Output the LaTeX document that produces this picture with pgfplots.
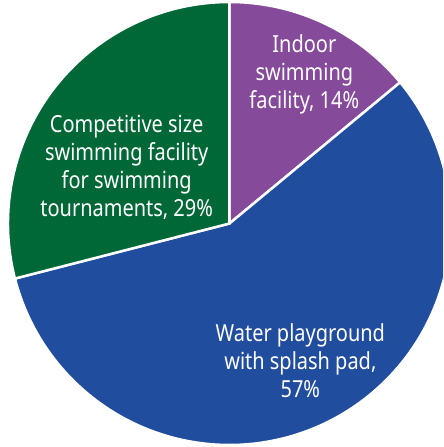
\documentclass[border=0pt]{standalone}
\usepackage{pgfplots}
\pgfplotsset{compat=1.18}
\usepackage{fontspec}
\setmainfont{Noto Sans}[FakeStretch=0.85]
\definecolor{pieblue}{RGB}{33,77,158}
\definecolor{piepurple}{RGB}{133,74,154}
\definecolor{piegreen}{RGB}{0,104,55}

% shares in percent, clockwise from 12 o'clock
\def\indoor{14}
\def\water{57}
\def\compet{29}

\begin{document}
\begin{tikzpicture}
\pgfmathsetmacro{\aA}{90}
\pgfmathsetmacro{\aB}{\aA-3.6*\indoor}
\pgfmathsetmacro{\aC}{\aB-3.6*\water}
\pgfmathsetmacro{\aD}{\aC-3.6*\compet}
\begin{axis}[
    name=ax,
    x=221.5pt, y=221.5pt,
    xmin=-1.036, xmax=0.964,
    ymin=-1.009, ymax=1.009,
    hide axis,
    clip=true,
    scale only axis,
]
    \addplot[fill=piepurple, draw=white, line width=2.5pt, no marks,
        domain=\aB:\aA, samples=80] ({cos(x)}, {sin(x)}) -- (axis cs:0,0) -- cycle;
    \addplot[fill=pieblue, draw=white, line width=2.5pt, no marks,
        domain=\aC:\aB, samples=160] ({cos(x)}, {sin(x)}) -- (axis cs:0,0) -- cycle;
    \addplot[fill=piegreen, draw=white, line width=2.5pt, no marks,
        domain=\aD:\aC, samples=120] ({cos(x)}, {sin(x)}) -- (axis cs:0,0) -- cycle;
    \begin{scope}[every node/.style={text=white, align=center,
        font=\fontsize{23.5}{28}\selectfont}]
    \node at (axis cs:0.338,0.671) {Indoor\\swimming\\facility, 14\%};
    \node at (axis cs:-0.464,0.252) {Competitive size\\swimming facility\\for swimming\\tournaments, 29\%};
    \node at (axis cs:0.32,-0.62) {Water playground\\with splash pad,\\57\%};
    \end{scope}
\end{axis}
\pgfresetboundingbox
\path (ax.south west) rectangle (ax.north east);
\end{tikzpicture}
\end{document}
